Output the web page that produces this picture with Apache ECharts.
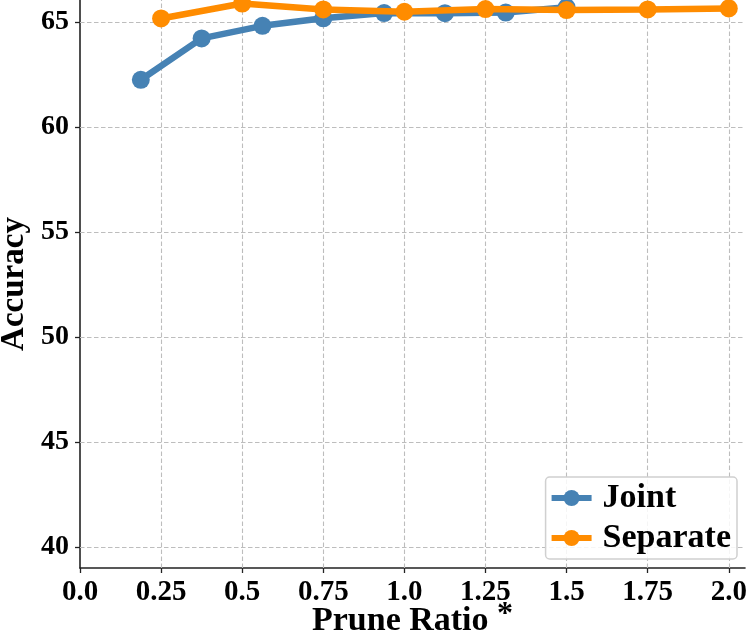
<!DOCTYPE html>
<html>
<head>
<meta charset="utf-8">
<script src="https://cdn.jsdelivr.net/npm/echarts@6/dist/echarts.min.js"></script>
<style>
html,body{margin:0;padding:0;background:#fff;}
#c{width:747px;height:637px;}
</style>
</head>
<body>
<div id="c"></div>
<script>
var jointX = [0.1875, 0.375, 0.5625, 0.75, 0.9375, 1.125, 1.3125, 1.5];
var jointY = [62.25, 64.22, 64.82, 65.18, 65.43, 65.42, 65.45, 65.7];
var sepX = [0.25, 0.5, 0.75, 1.0, 1.25, 1.5, 1.75, 2.0];
var sepY = [65.17, 65.88, 65.6, 65.49, 65.62, 65.57, 65.6, 65.65];
var xTicks = [0, 0.25, 0.5, 0.75, 1.0, 1.25, 1.5, 1.75, 2.0];
var xTickLabels = ['0.0', '0.25', '0.5', '0.75', '1.0', '1.25', '1.5', '1.75', '2.0'];
var yTicks = [40, 45, 50, 55, 60, 65];
var yTickLabels = ['40', '45', '50', '55', '60', '65'];

var FONT = '"Liberation Serif", "Times New Roman", serif';
var X_MIN = 0, X_MAX = 2.05, Y_MIN = 39, Y_MAX = 66.05;
var chart = echarts.init(document.getElementById('c'), null, {renderer: 'canvas'});

function pairs(xs, ys) { return xs.map(function (x, i) { return [x, ys[i]]; }); }
function labelFor(ticks, labels) {
  return function (v) {
    for (var i = 0; i < ticks.length; i++) {
      if (Math.abs(ticks[i] - v) < 1e-6) return labels[i];
    }
    return '';
  };
}

var gridLines = [];
xTicks.forEach(function (v) { if (v > X_MIN) gridLines.push({xAxis: v}); });
yTicks.forEach(function (v) { if (v > Y_MIN) gridLines.push({yAxis: v}); });

chart.setOption({
  animation: false,
  grid: {left: 80, right: 2, top: 0, bottom: 69, containLabel: false, outerBoundsMode: 'none'},
  xAxis: {
    type: 'value', min: X_MIN, max: X_MAX,
    name: '{a|Prune Ratio} {s|*}', nameLocation: 'middle', nameGap: 31, nameMoveOverlap: false,
    nameTextStyle: {
      fontFamily: FONT, fontWeight: 'bold', fontSize: 34, color: '#000',
      rich: {
        a: {fontFamily: FONT, fontWeight: 'bold', fontSize: 34, color: '#000'},
        s: {fontFamily: FONT, fontWeight: 'bold', fontSize: 32, color: '#000', padding: [0, 0, 12, 0]}
      }
    },
    axisLine: {show: true, lineStyle: {color: '#222', width: 1.6}},
    axisTick: {show: true, length: 5, customValues: xTicks, lineStyle: {color: '#222', width: 1.3}},
    axisLabel: {
      fontFamily: FONT, fontWeight: 'bold', fontSize: 29, color: '#000', margin: 10,
      customValues: xTicks,
      formatter: labelFor(xTicks, xTickLabels)
    },
    splitLine: {show: false}
  },
  yAxis: {
    type: 'value', min: Y_MIN, max: Y_MAX,
    name: 'Accuracy', nameLocation: 'middle', nameGap: 49, nameRotate: 90, nameMoveOverlap: false,
    nameTextStyle: {fontFamily: FONT, fontWeight: 'bold', fontSize: 33, color: '#000'},
    axisLine: {show: true, lineStyle: {color: '#222', width: 1.6}},
    axisTick: {show: true, length: 5, customValues: yTicks, lineStyle: {color: '#222', width: 1.3}},
    axisLabel: {
      fontFamily: FONT, fontWeight: 'bold', fontSize: 28, color: '#000', margin: 11,
      customValues: yTicks,
      formatter: labelFor(yTicks, yTickLabels)
    },
    splitLine: {show: false}
  },
  legend: {
    right: 10, bottom: 78, orient: 'vertical',
    data: ['Joint', 'Separate'],
    itemWidth: 40, itemHeight: 20, itemGap: 6,
    padding: [4, 6, 4, 3],
    borderColor: '#d0d0d0', borderWidth: 1.5, borderRadius: 4,
    backgroundColor: 'rgba(255,255,255,0.85)',
    lineStyle: {width: 6},
    textStyle: {fontFamily: FONT, fontWeight: 'bold', fontSize: 34, color: '#000', padding: [0, 0, 0, 6]}
  },
  series: [
    {
      name: 'Joint', type: 'line', data: pairs(jointX, jointY),
      symbol: 'circle', symbolSize: 18,
      lineStyle: {color: '#4682B4', width: 6.5},
      itemStyle: {color: '#4682B4'},
      z: 3,
      markLine: {
        silent: true, symbol: ['none', 'none'], label: {show: false},
        lineStyle: {color: '#bdbdbd', type: [4.5, 2.5], width: 1.1},
        emphasis: {disabled: true},
        data: gridLines, z: 1
      }
    },
    {
      name: 'Separate', type: 'line', data: pairs(sepX, sepY),
      symbol: 'circle', symbolSize: 18,
      lineStyle: {color: '#FF8C00', width: 6.5},
      itemStyle: {color: '#FF8C00'},
      z: 4
    }
  ]
});
</script>
</body>
</html>
